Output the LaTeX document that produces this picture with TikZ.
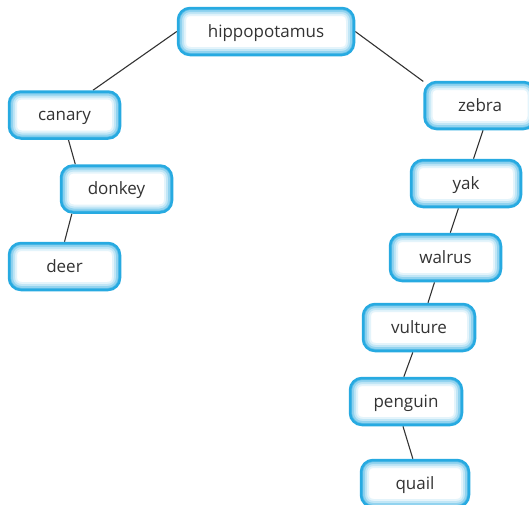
\documentclass[tikz,border=0pt]{standalone}
\usepackage{fontspec}
\setmainfont{Open Sans}
\usetikzlibrary{positioning,backgrounds}
\definecolor{Sky}{HTML}{27AAE1}
\definecolor{Ink}{HTML}{333333}

\begin{document}
\begin{tikzpicture}[x=1pt,y=-1pt,
    animal/.style={draw=Sky,line width=2.5pt,fill=white,rounded corners=12pt,
      minimum width=111pt,minimum height=47pt,text=Ink,
      text height=11pt,text depth=0pt,
      font=\fontsize{17}{20}\selectfont,
      path picture={
        \foreach \w/\o in {16/0.12,12/0.18,8/0.3,4/0.55}{
          \draw[Sky,opacity=\o,line width=\w pt,rounded corners=12pt]
            (path picture bounding box.south west) rectangle (path picture bounding box.north east);}
      }},
    link/.style={draw=Ink,line width=1.1pt}]
  \useasboundingbox (0,0) rectangle (529,504);
  % left branch
  \node[animal,minimum width=176pt] (hippo) at (266,31.5) {hippopotamus};
  \node[animal] (canary) at (64.5,115) {canary};
  \node[animal] (donkey) at (116.5,189) {donkey};
  \node[animal] (deer) at (64.5,266.5) {deer};
  % right branch
  \node[animal] (zebra) at (480,105.5) {zebra};
  \node[animal,minimum width=110pt] (yak) at (466,183.5) {yak};
  \node[animal] (walrus) at (445.5,257.5) {walrus};
  \node[animal,minimum width=112pt] (vulture) at (419,327.5) {vulture};
  \node[animal,minimum width=112pt] (penguin) at (406,401.5) {penguin};
  \node[animal,minimum width=108pt] (quail) at (415,483.5) {quail};
  \begin{scope}[on background layer]
    \draw[link] (hippo.west) -- (canary.41);
    \draw[link] (hippo.east) -- (zebra.157);
    \draw[link] (canary.-81) -- (donkey.149);
    \draw[link] (donkey.209) -- (deer.north);
    \draw[link] (zebra.-83) -- (yak.73);
    \draw[link] (yak.253) -- (walrus.79);
    \draw[link] (walrus.246) -- (vulture.70);
    \draw[link] (vulture.256) -- (penguin.95);
    \draw[link] (penguin.263) -- (quail.95);
  \end{scope}
\end{tikzpicture}
\end{document}
